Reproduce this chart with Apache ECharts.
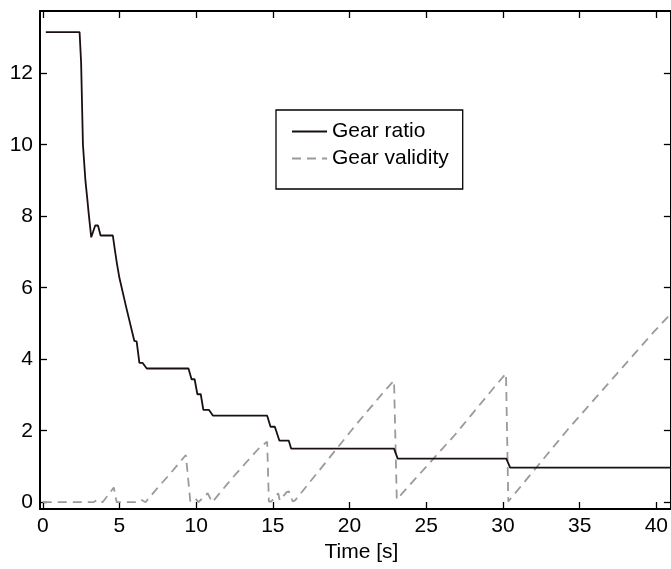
<!DOCTYPE html>
<html>
<head>
<meta charset="utf-8">
<script src="https://cdn.jsdelivr.net/npm/echarts@6/dist/echarts.min.js"></script>
<style>
  html, body { margin: 0; padding: 0; background: #fff; }
  #chart { width: 671px; height: 569px; }
</style>
</head>
<body>
<div id="chart"></div>
<script>
// gear ratio (solid black)
const ratioTime = [0.2, 2.4, 2.5, 2.62, 2.78, 2.9, 3.0, 3.16, 3.42, 3.6, 3.77, 4.57, 4.67, 4.83, 5.0, 5.43, 5.97, 6.12, 6.3, 6.5, 6.78,
  9.5, 9.7, 9.9, 10.08, 10.3, 10.47, 10.84, 11.1, 14.63, 14.85, 15.13, 15.43, 16.04, 16.19, 22.9, 23.14, 30.22, 30.47, 41];
const ratioValue = [13.15, 13.15, 12.3, 10.0, 9.0, 8.5, 8.05, 7.41, 7.74, 7.74, 7.46, 7.46, 7.15, 6.69, 6.27, 5.47, 4.51, 4.5, 3.9, 3.9, 3.74,
  3.74, 3.44, 3.44, 3.02, 3.02, 2.58, 2.58, 2.42, 2.42, 2.11, 2.11, 1.72, 1.72, 1.5, 1.5, 1.22, 1.22, 0.97, 0.97];

// gear validity (grey dashed)
const validityTime = [0, 3.3, 3.6, 3.9, 4.63, 4.82, 6.3, 6.45, 6.7, 7.36, 8.23, 9.33, 9.44, 9.62, 9.95, 10.15, 10.75, 11.05,
  12.34, 13.4, 14.18, 14.63, 14.74, 14.9, 15.35, 15.45, 15.9, 16.05, 16.3, 16.45, 18.85, 20.35, 22.3, 22.9, 23.08, 23.2,
  26.86, 29.46, 30.2, 30.35, 30.4, 34.2, 39.85, 41];
const validityValue = [0, 0, 0.08, 0, 0.41, 0, 0, 0.06, 0, 0.34, 0.76, 1.32, 1.36, 0.02, 0.1, 0, 0.25, 0,
  0.67, 1.18, 1.55, 1.69, 0.02, 0.02, 0.25, 0.05, 0.28, 0.3, 0.02, 0.05, 1.33, 2.13, 3.12, 3.4, 0.08, 0.08,
  1.88, 3.23, 3.6, 0.02, 0, 2.02, 4.77, 5.3];

const xTicks = [0, 5, 10, 15, 20, 25, 30, 35, 40];
const yTicks = [0, 2, 4, 6, 8, 10, 12];

const font = 'Liberation Sans';
const black = '#000';

const chart = echarts.init(document.getElementById('chart'));

const tickStyle = { show: true, inside: true, length: 7, lineStyle: { color: black, width: 1.3 } };
const spine = { show: true, onZero: false, lineStyle: { color: black, width: 2 } };

chart.setOption({
  animation: false,
  textStyle: { fontFamily: font },
  grid: { left: 40, top: 11, right: -3, bottom: 60 },
  legend: {
    left: 276,
    top: 110,
    orient: 'vertical',
    backgroundColor: '#fff',
    borderColor: black,
    borderWidth: 1.3,
    borderRadius: 0,
    padding: [11, 14, 20, 15],
    itemWidth: 35,
    itemHeight: 14,
    itemGap: 6,
    itemStyle: { opacity: 0 },
    textStyle: { fontFamily: font, fontSize: 21, color: black },
    data: ['Gear ratio', 'Gear validity'],
  },
  xAxis: [
    {
      type: 'value',
      min: -0.18,
      max: 40.95,
      axisLine: spine,
      axisTick: { ...tickStyle, customValues: xTicks },
      axisLabel: { customValues: xTicks, fontFamily: font, fontSize: 21, color: black, margin: 7 },
      splitLine: { show: false },
      name: 'Time [s]',
      nameLocation: 'middle',
      nameGap: 33,
      nameTextStyle: { fontFamily: font, fontSize: 21, color: black, padding: [0, 0, 0, 12] },
    },
    {
      type: 'value',
      position: 'top',
      min: -0.18,
      max: 40.95,
      axisLine: spine,
      axisTick: { ...tickStyle, customValues: xTicks },
      axisLabel: { show: false },
      splitLine: { show: false },
    },
  ],
  yAxis: [
    {
      type: 'value',
      min: -0.19,
      max: 13.74,
      axisLine: spine,
      axisTick: { ...tickStyle, customValues: yTicks },
      axisLabel: { customValues: yTicks, fontFamily: font, fontSize: 21, color: black, margin: 7 },
      splitLine: { show: false },
    },
    {
      type: 'value',
      position: 'right',
      min: -0.19,
      max: 13.74,
      axisLine: spine,
      axisTick: { ...tickStyle, customValues: yTicks },
      axisLabel: { show: false },
      splitLine: { show: false },
    },
  ],
  series: [
    {
      name: 'Gear ratio',
      type: 'line',
      symbol: 'none',
      data: ratioTime.map((t, i) => [t, ratioValue[i]]),
      lineStyle: { color: '#1a1010', width: 1.8 },
      itemStyle: { color: '#1a1010' },
      z: 3,
    },
    {
      name: 'Gear validity',
      type: 'line',
      symbol: 'none',
      data: validityTime.map((t, i) => [t, validityValue[i]]),
      lineStyle: { color: '#9a9a9a', width: 1.8, type: [9, 6] },
      itemStyle: { color: '#9a9a9a' },
      z: 2,
    },
  ],
});
</script>
</body>
</html>
